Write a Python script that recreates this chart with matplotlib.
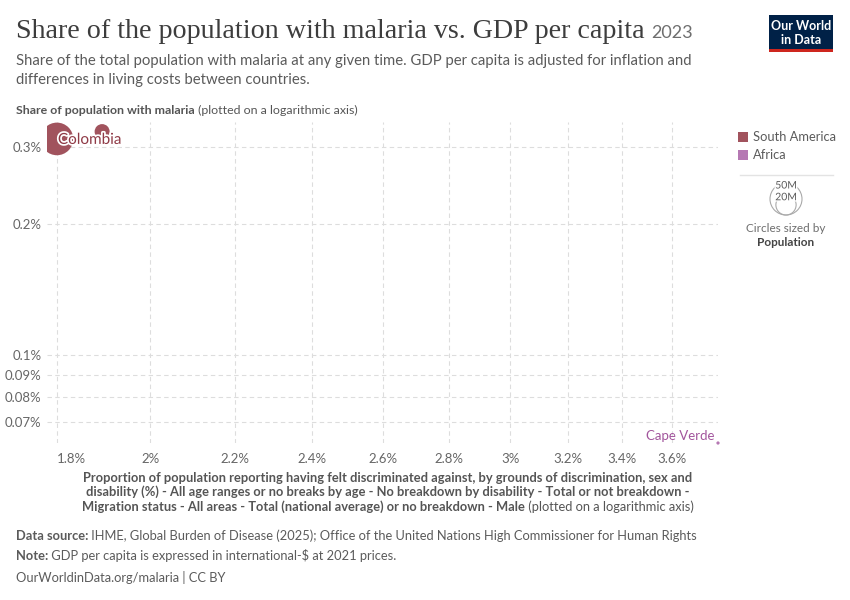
import matplotlib.pyplot as plt
import matplotlib.patheffects as pe
from matplotlib.patches import Rectangle, Circle
import numpy as np

# данные
countries = ["Colombia", None, "Cape Verde"]          # None - точка без подписи
regions = ["South America", "South America", "Africa"]
discrimination_pct = [1.80, 1.894, 3.79]             # ось X, %
malaria_pct = [0.3136, 0.326, 0.0627]                 # ось Y, %
population = [52e6, 11e6, 0.52e6]

region_names = ["South America", "Africa"]
region_colors = {"South America": "#a1535d", "Africa": "#b578b3"}
label_colors = {"South America": "#8f3a46", "Africa": "#a2559c"}

x_ticks = [1.8, 2.0, 2.2, 2.4, 2.6, 2.8, 3.0, 3.2, 3.4, 3.6]
x_tick_labels = ["1.8%", "2%", "2.2%", "2.4%", "2.6%", "2.8%", "3%", "3.2%", "3.4%", "3.6%"]
y_ticks = [0.07, 0.08, 0.09, 0.1, 0.2, 0.3]
y_tick_labels = ["0.07%", "0.08%", "0.09%", "0.1%", "0.2%", "0.3%"]

size_legend = [50e6, 20e6]
size_legend_labels = ["50M", "20M"]

W, H = 850, 600
FONT = "Lato"
GREY = "#5b5b5b"

plt.rcParams['font.family'] = [FONT, 'DejaVu Sans']

fig = plt.figure(figsize=(W / 100, H / 100), dpi=100)


def fx(x):
    return x / W


def fy(y):
    return 1 - y / H


def r_px(pop):
    return 16 * np.sqrt(pop / 50e6)


renderer = fig.canvas.get_renderer()


def rich(x, y, parts, ha="left", size=9.5, color=GREY):
    # строка из кусков разной жирности
    widths = []
    for text, weight in parts:
        t = fig.text(0, 0, text, fontsize=size, fontweight=weight)
        widths.append(t.get_window_extent(renderer).width)
        t.remove()
    total = sum(widths)
    start = x if ha == "left" else x - total / 2
    for (text, weight), w in zip(parts, widths):
        fig.text(fx(start), fy(y), text, fontsize=size, fontweight=weight,
                 color=color, va="center", ha="left")
        start += w


# заголовок
title = fig.text(fx(16), fy(32), "Share of the population with malaria vs. GDP per capita",
                 fontsize=20.2, family="Liberation Serif", color="#3d3d3d", va="center")
tw = title.get_window_extent(renderer).width
fig.text(fx(16 + tw + 7), fy(33), "2023", fontsize=13, color="#6e6e6e", va="center")

fig.text(fx(16), fy(61), "Share of the total population with malaria at any given time. GDP per capita is adjusted for inflation and",
         fontsize=10.7, color=GREY, va="center")
fig.text(fx(16), fy(80), "differences in living costs between countries.",
         fontsize=10.7, color=GREY, va="center")

rich(16, 110, [("Share of population with malaria", "bold"), (" (plotted on a logarithmic axis)", "normal")],
     size=8.9, color="#555555")

# логотип
fig.patches.append(Rectangle((fx(769), fy(52)), fx(64), 37 / H, transform=fig.transFigure,
                             facecolor="#002147", edgecolor="none"))
fig.patches.append(Rectangle((fx(769), fy(52)), fx(64), 3 / H, transform=fig.transFigure,
                             facecolor="#ce261e", edgecolor="none"))
fig.text(fx(801), fy(26), "Our World", fontsize=9, color="white", ha="center", va="center", fontweight="bold")
fig.text(fx(801), fy(40), "in Data", fontsize=9, color="white", ha="center", va="center", fontweight="bold")

# область графика
ax = fig.add_axes([fx(47), fy(443), fx(718 - 47), (443 - 122) / H])
ax.set_xscale("log")
ax.set_yscale("log")
ax.set_xlim(1.78, 3.79)
ax.set_ylim(0.0627, 0.343)

for x, y, pop, reg, name in zip(discrimination_pct, malaria_pct, population, regions, countries):
    s = (2 * r_px(pop) * 0.72) ** 2
    ax.scatter([x], [y], s=s, color=region_colors[reg], edgecolors="none", zorder=3,
               clip_on=pop > 1e6)

for x, y, reg, name in zip(discrimination_pct, malaria_pct, regions, countries):
    if name == "Colombia":
        ax.annotate(name, (x, y), xytext=(1, -1), textcoords="offset pixels", fontsize=11,
                    color=label_colors[reg], va="center", ha="left", zorder=5,
                    path_effects=[pe.withStroke(linewidth=2.5, foreground="white")])
    elif name:
        ax.annotate(name, (x, y), xytext=(-3, 7), textcoords="offset pixels", fontsize=9.5,
                    color=label_colors[reg], va="center", ha="right", zorder=5,
                    annotation_clip=False)

ax.set_xticks(x_ticks)
ax.set_xticklabels(x_tick_labels)
ax.set_yticks(y_ticks)
ax.set_yticklabels(y_tick_labels)
ax.xaxis.set_minor_locator(plt.NullLocator())
ax.yaxis.set_minor_locator(plt.NullLocator())
ax.tick_params(length=0, labelsize=9.5, labelcolor="#666666")
ax.tick_params(axis="x", pad=7)
ax.tick_params(axis="y", pad=4)
ax.get_xticklabels()[0].set_ha("left")
for sp in ax.spines.values():
    sp.set_visible(False)
ax.grid(True, color="#dddddd", linestyle=(0, (4, 3)), linewidth=0.8)
ax.set_axisbelow(True)

# подпись оси X
rich(388, 478, [("Proportion of population reporting having felt discriminated against, by grounds of discrimination, sex and", "bold")],
     ha="center", size=9.3, color="#555555")
rich(388, 492, [("disability (%) - All age ranges or no breaks by age - No breakdown by disability - Total or not breakdown -", "bold")],
     ha="center", size=9.3, color="#555555")
rich(388, 507, [("Migration status - All areas - Total (national average) or no breakdown - Male", "bold"),
                (" (plotted on a logarithmic axis)", "normal")],
     ha="center", size=9.3, color="#555555")

# легенда по регионам
for i, reg in enumerate(region_names):
    yy = 137 + i * 18
    fig.patches.append(Rectangle((fx(738), fy(yy + 5)), fx(10), 10 / H, transform=fig.transFigure,
                                 facecolor=region_colors[reg], edgecolor="none"))
    fig.text(fx(753), fy(yy), reg, fontsize=9.3, color=GREY, va="center")

fig.lines.append(plt.Line2D([fx(740), fx(833)], [fy(175), fy(175)], transform=fig.transFigure,
                            color="#e3e3e3", linewidth=1))

# легенда размеров
for pop, lab in zip(size_legend, size_legend_labels):
    r = r_px(pop)
    cy = 215 - r
    circ = Circle((786 / 100, (H - cy) / 100), r / 100, transform=fig.dpi_scale_trans,
                  facecolor="none", edgecolor="#aaaaaa", linewidth=0.8)
    fig.patches.append(circ)
    fig.text(fx(786), fy(215 - 2 * r + 3), lab, fontsize=7.5, color=GREY, ha="center", va="center",
             path_effects=[pe.withStroke(linewidth=2, foreground="white")])

fig.text(fx(786), fy(229), "Circles sized by", fontsize=8.5, color="#6e6e6e", ha="center", va="center")
fig.text(fx(786), fy(243), "Population", fontsize=8.5, color="#444444", ha="center", va="center", fontweight="bold")

# подвал
rich(16, 536, [("Data source:", "bold"),
               (" IHME, Global Burden of Disease (2025); Office of the United Nations High Commissioner for Human Rights", "normal")],
     size=9.25)
rich(16, 556, [("Note:", "bold"), (" GDP per capita is expressed in international-$ at 2021 prices.", "normal")], size=9.25)
fig.text(fx(16), fy(577), "OurWorldinData.org/malaria | CC BY", fontsize=9.25, color=GREY, va="center")

plt.savefig("out.png", dpi=100)
